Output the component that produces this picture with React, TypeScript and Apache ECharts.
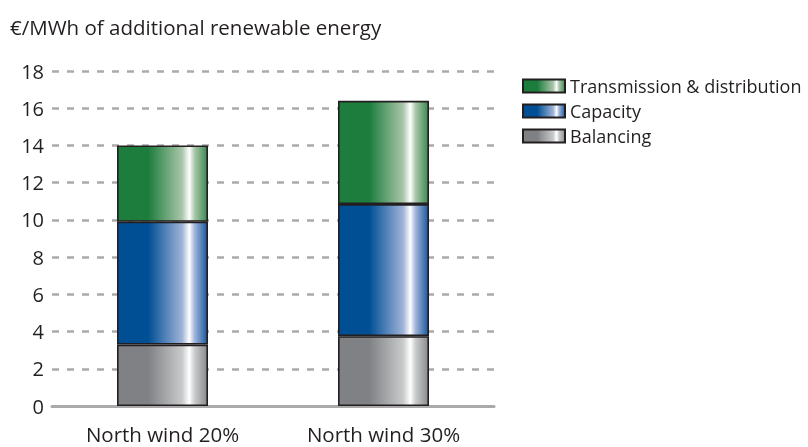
import React, { useEffect, useRef } from "react";
import * as echarts from "echarts";

const categories = ["North wind 20%", "North wind 30%"];
const balancing = [3.3, 3.75];
const capacity = [6.6, 7.1];
const transmission = [4.1, 5.55];
const yTicks = [0, 2, 4, 6, 8, 10, 12, 14, 16, 18];
const title = "€/MWh of additional renewable energy";

const FONT = "'Open Sans', sans-serif";

function grad(base: string, light: string, end: string) {
  return new echarts.graphic.LinearGradient(0, 0, 1, 0, [
    { offset: 0, color: base },
    { offset: 0.34, color: base },
    { offset: 0.72, color: light },
    { offset: 0.8, color: "#ffffff" },
    { offset: 0.86, color: light },
    { offset: 1, color: end },
  ]);
}

export default function App() {
  const ref = useRef<HTMLDivElement>(null);
  useEffect(() => {
    if (!ref.current) return;
    const chart = echarts.init(ref.current, undefined, { renderer: "svg" });
    const border = { borderColor: "#231f20", borderWidth: 1.6 };
    const mk = (name: string, data: number[], color: any) => ({
      name,
      type: "bar",
      stack: "total",
      data,
      barWidth: 91,
      itemStyle: { color, ...border },
    });
    chart.setOption({
      animation: false,
      title: {
        text: title,
        left: 10,
        top: 16,
        padding: 0,
        textStyle: { fontFamily: FONT, fontSize: 20.5, fontWeight: "normal", color: "#231f20", lineHeight: 22 },
      },
      legend: {
        data: ["Transmission & distribution", "Capacity", "Balancing"],
        orient: "vertical",
        left: 522,
        top: 77,
        padding: 0,
        itemWidth: 42,
        itemHeight: 13,
        itemGap: 7,
        icon: "rect",
        textStyle: { fontFamily: FONT, fontSize: 18, color: "#231f20", lineHeight: 18 },
      },
      grid: { left: 52, top: 71, width: 442, height: 335, containLabel: false },
      xAxis: {
        type: "category",
        data: categories,
        axisLine: { lineStyle: { color: "#aaaaab", width: 3 } },
        axisTick: { show: false },
        axisLabel: { fontFamily: FONT, fontSize: 20.5, color: "#231f20", margin: 19, lineHeight: 18 },
      },
      yAxis: {
        type: "value",
        min: yTicks[0],
        max: yTicks[yTicks.length - 1],
        interval: 2,
        axisLine: { show: false },
        axisTick: { show: false },
        axisLabel: { fontFamily: FONT, fontSize: 20, color: "#231f20", margin: 8 },
        splitLine: { lineStyle: { color: "#aaaaab", width: 2.5, type: [7, 8] } },
      },
      series: [
        mk("Balancing", balancing, grad("#808184", "#c9cacb", "#8a8b8d")),
        mk("Capacity", capacity, grad("#004f95", "#9fb3d8", "#1a5aa0")),
        mk("Transmission & distribution", transmission, grad("#1c7d3d", "#a9c6a9", "#3a8a50")),
      ],
    });
    return () => chart.dispose();
  }, []);
  return (
    <div
      ref={ref}
      style={{ position: "fixed", left: 0, top: 0, width: 808, height: 447 }}
    />
  );
}
